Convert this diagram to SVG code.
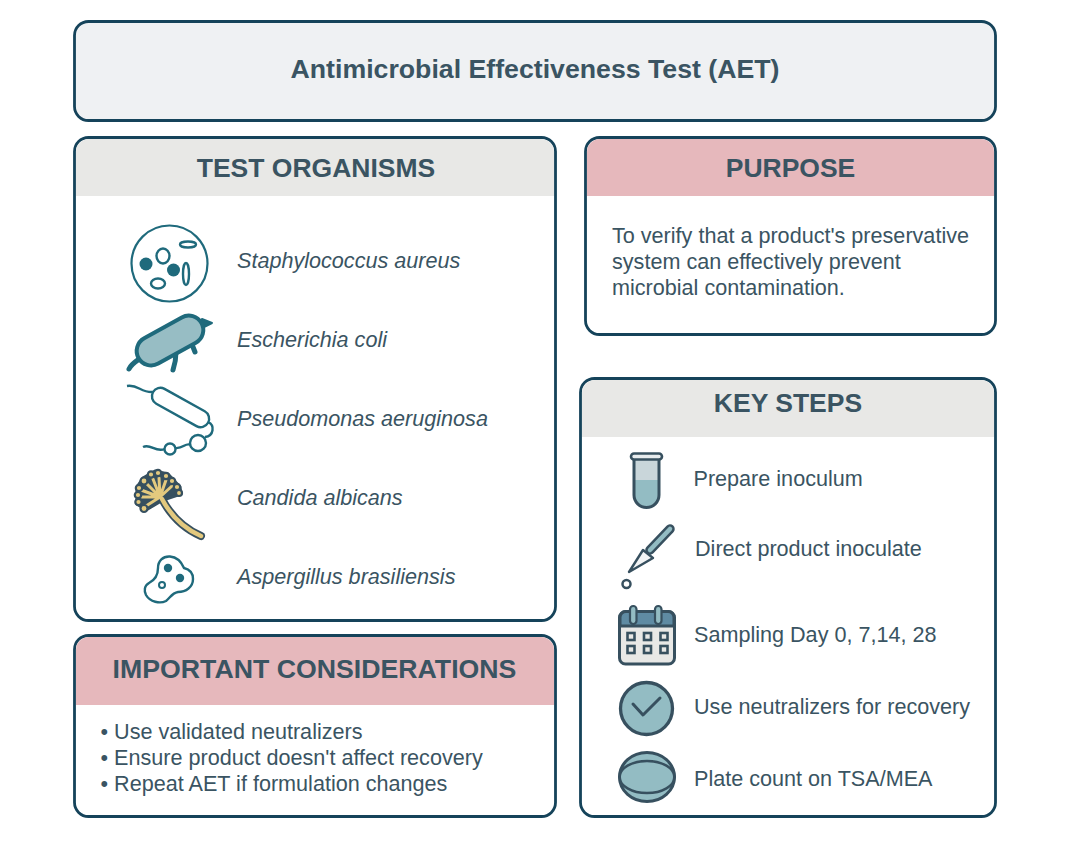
<svg xmlns="http://www.w3.org/2000/svg" width="1069" height="844" viewBox="0 0 1069 844">
<style>
text{font-family:"Liberation Sans",Arial,sans-serif;fill:#3a5462}
.h{font-size:26.500px;font-weight:700;text-anchor:middle}
.o{font-size:21.600px;font-style:italic}
.b{font-size:21.600px}
.box{fill:#fff;stroke:#15435a;stroke-width:2.800}
.ol{fill:#fff;stroke:#1f6a7c;stroke-width:2.400}
</style>
<rect width="1069" height="844" fill="#fff"/>
<g id="title"><rect x="74.500" y="21.500" width="921" height="99" rx="14" fill="#eff1f3" stroke="#15435a" stroke-width="2.800"/><text x="535" y="78" text-anchor="middle" font-size="26.700" font-weight="700">Antimicrobial Effectiveness Test (AET)</text></g>

<g id="organisms">
<rect class="box" x="74.500" y="137.500" width="481" height="483" rx="14"/>
<path d="M76 196V152a13 13 0 0 1 13-13H541a13 13 0 0 1 13 13V196Z" fill="#e8e8e6"/>
<text class="h" x="316" y="177">TEST ORGANISMS</text>
<g id="staph">
<circle cx="169.500" cy="263.500" r="38" fill="#fff" stroke="#1f6a7c" stroke-width="2.200"/>
<circle cx="146" cy="264" r="6.500" fill="#1f6a7c"/><circle cx="173.500" cy="270" r="6.500" fill="#1f6a7c"/>
<ellipse cx="163" cy="256" rx="6.500" ry="7.500" class="ol"/>
<ellipse cx="158" cy="283.500" rx="7" ry="5" class="ol"/>
<ellipse cx="188" cy="244.500" rx="8" ry="3" class="ol"/>
<ellipse cx="186" cy="274" rx="3" ry="11" class="ol"/>
</g>
<text class="o" x="237" y="268">Staphylococcus aureus</text>
<g id="ecoli">
<path d="M129 369C132 363 137 361 142 357M176 352C176 358 175 364 173 370M191 342L195 352" fill="none" stroke="#1f6a7c" stroke-width="5" stroke-linecap="round"/>
<path d="M202 319L212 323L202 328Z" fill="#1f6a7c" stroke="#1f6a7c" stroke-width="2" stroke-linejoin="round"/>
<rect x="134" y="326" width="72" height="29" rx="14.500" transform="rotate(-29 170 340.500)" fill="#97bdc4" stroke="#1f6a7c" stroke-width="4"/>
</g>
<text class="o" x="237" y="347">Escherichia coli</text>
<g id="pseudo">
<path d="M127 386C138 384 141 393 153 392" fill="none" stroke="#1f6a7c" stroke-width="2.400"/>
<rect x="149" y="399" width="63" height="17" rx="8.500" transform="rotate(29 180.500 407.500)" class="ol"/>
<path d="M208 422C215 425 214 436 205 437M191 445C185 442 184 449 175 448M165 449C155 453 151 443 143 447" fill="none" stroke="#1f6a7c" stroke-width="2.400"/>
<circle cx="198" cy="443" r="8" class="ol"/>
<circle cx="170" cy="449" r="5.500" class="ol"/>
</g>
<text class="o" x="237" y="426">Pseudomonas aeruginosa</text>
<g id="candida">
<path d="M162 499C171 516 185 529 201 536" fill="none" stroke="#37505f" stroke-width="8" stroke-linecap="round"/>
<path d="M137 487L143 478L155 471L168 474L180 487L181 494L163 500L146 510L137 504Z" fill="#37505f" stroke="#37505f" stroke-width="3" stroke-linejoin="round"/>
<path d="M162 499C171 516 185 529 201 536" fill="none" stroke="#e3c97e" stroke-width="4.500" stroke-linecap="round"/>
<path d="M160 497L146 483M160 497L153 479M160 497L159 478M160 497L166 480M160 497L172 486M160 497L141 490M160 497L142 497M160 497L146 506" stroke="#e3c97e" stroke-width="3" stroke-linecap="round"/>
<g fill="#e3c97e" stroke="#37505f" stroke-width="2.200"><circle cx="144" cy="481" r="3.500"/><circle cx="139" cy="488" r="3.200"/><circle cx="138" cy="495" r="3.200"/><circle cx="138.500" cy="502" r="3.200"/><circle cx="144" cy="508.500" r="3.500"/><circle cx="151" cy="474.500" r="3.200"/><circle cx="158" cy="473" r="3.200"/><circle cx="166" cy="476" r="3.200"/><circle cx="172" cy="481" r="3.200"/><circle cx="177" cy="487" r="3.200"/><circle cx="179" cy="493" r="3"/></g>
</g>
<text class="o" x="237" y="505">Candida albicans</text>
<g id="asper">
<path d="M170 556.500C163 556 158 561 158 568C158 576 155 580 149 583C144 586 144 591 146 595C150 602 160 604 166 601C170 598 172 593 178 592C186 592 193 587 193 579C193 572 188 569 184 568C181 561 176 557 170 556.500Z" class="ol"/>
<circle cx="168" cy="568" r="4.200" fill="#1f6a7c"/><circle cx="180" cy="578" r="4.200" fill="#1f6a7c"/><circle cx="162" cy="585" r="3" fill="#fff" stroke="#1f6a7c" stroke-width="2"/>
</g>
<text class="o" x="237" y="584">Aspergillus brasiliensis</text>
</g>

<g id="purpose">
<rect class="box" x="585.500" y="137.500" width="410" height="197" rx="14"/>
<path d="M587 196V152a13 13 0 0 1 13-13H981a13 13 0 0 1 13 13V196Z" fill="#e6b8bc"/>
<text class="h" x="790.500" y="177">PURPOSE</text>
<text class="b" x="612" y="243">To verify that a product's preservative</text>
<text class="b" x="612" y="269">system can effectively prevent</text>
<text class="b" x="612" y="294.500">microbial contamination.</text>
</g>

<g id="considerations">
<rect class="box" x="74.500" y="635.500" width="481" height="181" rx="14"/>
<path d="M76 705V650a13 13 0 0 1 13-13H541a13 13 0 0 1 13 13V705Z" fill="#e6b8bc"/>
<text class="h" x="314.500" y="678" style="font-size:26.700px">IMPORTANT CONSIDERATIONS</text>
<text class="b" x="100.500" y="739">• Use validated neutralizers</text>
<text class="b" x="100.500" y="765">• Ensure product doesn't affect recovery</text>
<text class="b" x="100.500" y="791">• Repeat AET if formulation changes</text>
</g>

<g id="keysteps">
<rect class="box" x="580.500" y="378.500" width="415" height="438" rx="14"/>
<path d="M582 437V393a13 13 0 0 1 13-13H981a13 13 0 0 1 13 13V437Z" fill="#e8e8e6"/>
<text class="h" x="788" y="412">KEY STEPS</text>
<g id="tube">
<path d="M634 458H659V495a12.500 12.500 0 0 1 -25 0Z" fill="#c9d6da"/>
<path d="M634 480H659V495a12.500 12.500 0 0 1 -25 0Z" fill="#93bcc3"/>
<path d="M634 458H659V495a12.500 12.500 0 0 1 -25 0Z" fill="none" stroke="#37505f" stroke-width="3"/>
<rect x="631" y="453.500" width="31" height="6" rx="3" fill="#e7ecee" stroke="#37505f" stroke-width="2.600"/>
</g>
<text class="b" x="693.500" y="486">Prepare inoculum</text>
<g id="dropper">
<path d="M629 572L643 550L653 558Z" fill="#f2f4f5" stroke="#37505f" stroke-width="2.400" stroke-linejoin="round"/>
<path d="M650 550L670 529" fill="none" stroke="#37505f" stroke-width="9.500" stroke-linecap="round"/>
<path d="M650 550L670 529" fill="none" stroke="#93bcc3" stroke-width="4.500" stroke-linecap="round"/>
<circle cx="626.500" cy="584" r="4" fill="#fff" stroke="#37505f" stroke-width="2.500"/>
</g>
<text class="b" x="695" y="556">Direct product inoculate</text>
<g id="calendar">
<rect x="619.500" y="611.500" width="55" height="52.500" rx="6" fill="#e8e8e6" stroke="#37505f" stroke-width="3"/>
<path d="M620 626V617.500a6 6 0 0 1 6-6H668a6 6 0 0 1 6 6V626Z" fill="#5f8ba3" stroke="#37505f" stroke-width="3"/>
<rect x="630" y="606" width="6.500" height="18" rx="3.200" fill="#93bcc3" stroke="#37505f" stroke-width="2.200"/>
<rect x="655" y="606" width="6.500" height="18" rx="3.200" fill="#93bcc3" stroke="#37505f" stroke-width="2.200"/>
<g fill="none" stroke="#37505f" stroke-width="2.600"><rect x="627.500" y="633" width="7" height="7"/><rect x="644" y="633" width="7" height="7"/><rect x="660.500" y="633" width="7" height="7"/><rect x="627.500" y="646" width="7" height="7"/><rect x="644" y="646" width="7" height="7"/><rect x="660.500" y="646" width="7" height="7"/></g>
</g>
<text class="b" x="694" y="642">Sampling Day 0, 7,14, 28</text>
<g id="check">
<circle cx="646.500" cy="708.500" r="26" fill="#93bcc3" stroke="#37505f" stroke-width="3.300"/>
<path d="M633 704L643 715L660 698" fill="none" stroke="#37505f" stroke-width="3" stroke-linecap="round" stroke-linejoin="round"/>
</g>
<text class="b" x="694" y="714">Use neutralizers for recovery</text>
<g id="dish">
<ellipse cx="647" cy="777" rx="27.500" ry="24.500" fill="#93bcc3" stroke="#37505f" stroke-width="3"/>
<ellipse cx="647" cy="777" rx="27.500" ry="16" fill="none" stroke="#37505f" stroke-width="2.500"/>
</g>
<text class="b" x="694" y="786">Plate count on TSA/MEA</text>
</g>
<g id="connectors"/>
</svg>
